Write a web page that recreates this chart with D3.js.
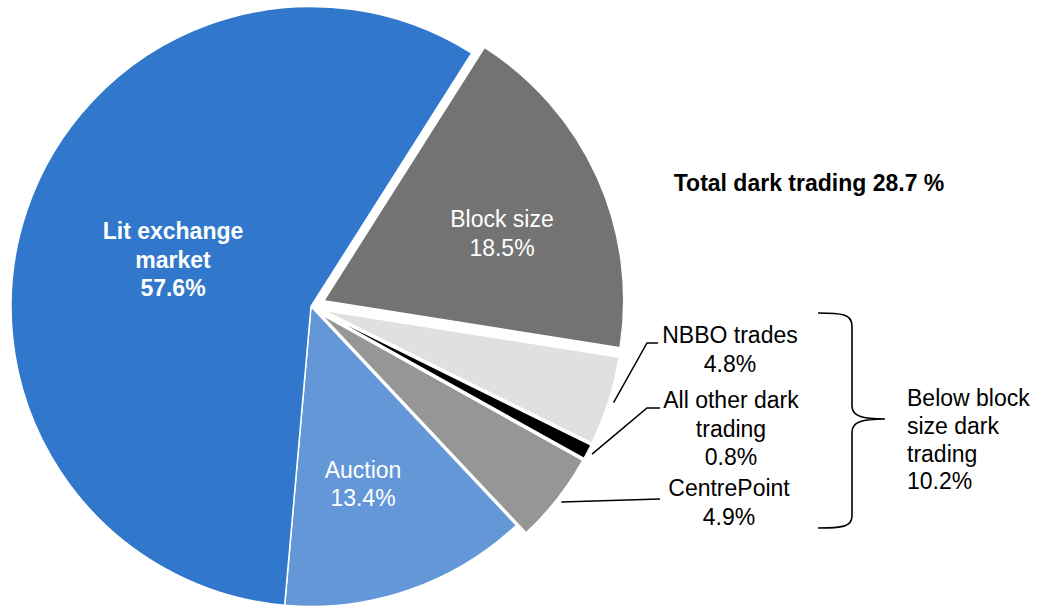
<!DOCTYPE html>
<html>
<head>
<meta charset="utf-8">
<script src="https://cdn.jsdelivr.net/npm/d3@7"></script>
<style>
  html, body { margin: 0; padding: 0; background: #fff; }
  svg { display: block; font-family: "Liberation Sans", Arial, sans-serif; }
</style>
</head>
<body>
<svg id="chart" width="1046" height="610"></svg>
<script>
// Share of turnover by trading venue type (%)
const categories = ["Block size", "NBBO trades", "All other dark trading", "CentrePoint", "Auction", "Lit exchange market"];
const shares = [18.5, 4.8, 0.8, 4.9, 13.4, 57.6];

// Text shown as summary annotations
const totalDarkLabel = "Total dark trading 28.7 %";
const belowBlockLines = ["Below block", "size dark", "trading", "10.2%"];

// How each category name wraps in its label
const nameLines = {
  "Block size": ["Block size"],
  "NBBO trades": ["NBBO trades"],
  "All other dark trading": ["All other dark", "trading"],
  "CentrePoint": ["CentrePoint"],
  "Auction": ["Auction"],
  "Lit exchange market": ["Lit exchange", "market"]
};

// ---- styling / layout ----
const colors = {
  "Block size": "#737373",
  "NBBO trades": "#e0e0e0",
  "All other dark trading": "#000000",
  "CentrePoint": "#969696",
  "Auction": "#6497d8",
  "Lit exchange market": "#3178cc"
};
const explodeBy = {
  "Block size": 14,
  "NBBO trades": 12.5,
  "All other dark trading": 12.5,
  "CentrePoint": 12.5,
  "Auction": 0,
  "Lit exchange market": 0
};
// inside labels: anchor (centre x, first baseline), colour, weight
const insideLabels = {
  "Lit exchange market": { x: 173, y: 239, weight: "bold" },
  "Block size": { x: 502, y: 227, weight: "normal" },
  "Auction": { x: 363, y: 477.5, weight: "normal" }
};
// outside labels: text centre, first baseline, leader elbow
const outsideLabels = {
  "NBBO trades": { x: 730, y: 343, elbow: [647, 343], end: 658 },
  "All other dark trading": { x: 731, y: 408, elbow: [647, 408], end: 660 },
  "CentrePoint": { x: 729, y: 496, elbow: null, end: 660, endY: 499 }
};

const fontSize = 23;
const lineH = 28.5;
const cx = 311, cy = 306.5, R = 300;
const startDeg = 32.4;

const svg = d3.select("#chart");
const fmt = d3.format(".1f");

const data = categories.map((c, i) => ({ name: c, value: shares[i] }));

const pie = d3.pie()
  .sort(null)
  .value(d => d.value)
  .startAngle(startDeg * Math.PI / 180)
  .endAngle(startDeg * Math.PI / 180 + 2 * Math.PI);

const arcs = pie(data);
const arc = d3.arc().innerRadius(0).outerRadius(R);

function offsetOf(a) {
  const mid = (a.startAngle + a.endAngle) / 2;
  const e = explodeBy[a.data.name];
  return [e * Math.sin(mid), -e * Math.cos(mid)];
}

const g = svg.append("g").attr("transform", `translate(${cx},${cy})`);

g.selectAll("path.slice")
  .data(arcs)
  .join("path")
  .attr("class", "slice")
  .attr("d", arc)
  .attr("transform", d => { const o = offsetOf(d); return `translate(${o[0]},${o[1]})`; })
  .attr("fill", d => colors[d.data.name])
  .attr("stroke", "#fff")
  .attr("stroke-width", 1.5)
  .attr("stroke-linejoin", "round");

// inside labels
arcs.filter(a => insideLabels[a.data.name]).forEach(a => {
  const L = insideLabels[a.data.name];
  const lines = nameLines[a.data.name].concat([fmt(a.data.value) + "%"]);
  const t = svg.append("text")
    .attr("text-anchor", "middle")
    .attr("font-size", fontSize)
    .attr("font-weight", L.weight)
    .attr("fill", "#fff");
  lines.forEach((s, i) => {
    t.append("tspan").attr("x", L.x).attr("y", L.y + i * lineH).text(s);
  });
});

// outside labels with leader lines
const leaderR = d3.arc().innerRadius(R + 5).outerRadius(R + 5);
arcs.filter(a => outsideLabels[a.data.name]).forEach(a => {
  const L = outsideLabels[a.data.name];
  const o = offsetOf(a);
  const c = leaderR.centroid(a);
  const p0 = [cx + c[0] + o[0], cy + c[1] + o[1]];
  const pts = [p0];
  if (L.elbow) { pts.push(L.elbow); pts.push([L.end, L.elbow[1]]); }
  else { pts.push([L.end, L.endY]); }
  svg.append("path")
    .attr("d", d3.line()(pts))
    .attr("fill", "none")
    .attr("stroke", "#000")
    .attr("stroke-width", 1.5);

  const lines = nameLines[a.data.name].concat([fmt(a.data.value) + "%"]);
  const t = svg.append("text")
    .attr("text-anchor", "middle")
    .attr("font-size", fontSize)
    .attr("fill", "#000");
  lines.forEach((s, i) => {
    t.append("tspan").attr("x", L.x).attr("y", L.y + i * lineH).text(s);
  });
});

// total dark trading heading
svg.append("text")
  .attr("x", 809).attr("y", 190.5)
  .attr("text-anchor", "middle")
  .attr("font-size", fontSize)
  .attr("font-weight", "bold")
  .attr("fill", "#000")
  .text(totalDarkLabel);

// brace grouping the below-block dark categories
svg.append("path")
  .attr("d", "M818,313 C842,313 852,314 852,326 L852,406 C852,416 862,419 885,419 C862,419 852,422 852,432 L852,516 C852,527 842,528 818,528")
  .attr("fill", "none")
  .attr("stroke", "#000")
  .attr("stroke-width", 1.6);

const bt = svg.append("text")
  .attr("font-size", fontSize)
  .attr("fill", "#000");
belowBlockLines.forEach((s, i) => {
  bt.append("tspan").attr("x", 907).attr("y", 406 + i * 27.8).text(s);
});
</script>
</body>
</html>
